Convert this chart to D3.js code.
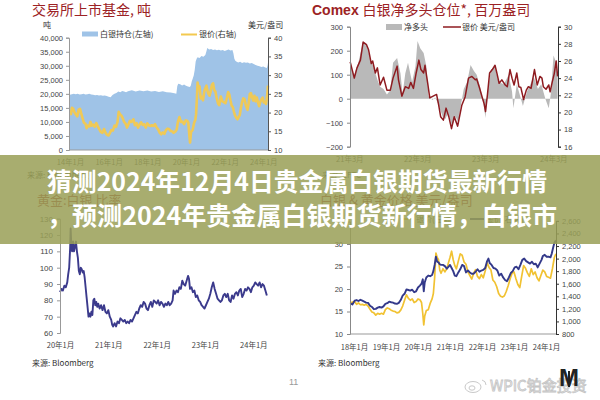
<!DOCTYPE html>
<html><head><meta charset="utf-8">
<script src="https://cdn.jsdelivr.net/npm/d3@7"></script>
<style>body{margin:0;background:#fff}svg{display:block}</style>
</head><body>
<svg id="c" width="600" height="400"></svg>
<script>
// ---------------- DATA ----------------
// Chart 1: ETF silver holdings (tonnes) and silver price (USD/oz)
const etfHoldings = [[2014.0,19700],[2014.1,19900],[2014.2,20000],[2014.3,19900],[2014.4,20000],[2014.5,19800],[2014.6,19900],[2014.7,20000],[2014.8,19800],[2014.9,19900],[2015.0,20000],[2015.1,19800],[2015.2,19700],[2015.3,19500],[2015.4,19600],[2015.5,19400],[2015.6,19500],[2015.7,19300],[2015.8,19400],[2015.9,19200],[2016.0,19000],[2016.1,18800],[2016.2,19600],[2016.3,20000],[2016.4,20300],[2016.5,20800],[2016.6,20600],[2016.7,21000],[2016.8,20800],[2016.9,20600],[2017.0,20900],[2017.2,21300],[2017.4,20800],[2017.6,21200],[2017.8,20900],[2018.0,21200],[2018.2,20800],[2018.4,21000],[2018.6,20700],[2018.8,20900],[2019.0,20600],[2019.2,20500],[2019.4,20200],[2019.5,20000],[2019.55,22800],[2019.6,23600],[2019.7,23400],[2019.8,23000],[2019.9,23300],[2020.0,22900],[2020.1,22600],[2020.2,22400],[2020.25,23000],[2020.3,24500],[2020.35,25500],[2020.4,26500],[2020.45,28500],[2020.5,31500],[2020.55,32500],[2020.6,33000],[2020.7,32800],[2020.8,33500],[2020.9,33200],[2021.0,33800],[2021.05,35000],[2021.1,36300],[2021.2,35800],[2021.3,36000],[2021.4,35600],[2021.5,35800],[2021.6,35500],[2021.7,35700],[2021.8,35400],[2021.9,35600],[2022.0,35300],[2022.1,35500],[2022.2,35800],[2022.3,35400],[2022.4,35600],[2022.45,34500],[2022.5,32500],[2022.55,31800],[2022.6,31500],[2022.7,31200],[2022.8,31400],[2022.9,31000],[2023.0,31300],[2023.1,31100],[2023.2,31200],[2023.3,30800],[2023.4,31000],[2023.5,30600],[2023.6,30300],[2023.7,30000],[2023.8,29800],[2023.9,29600],[2024.0,29700],[2024.1,29400],[2024.18,29200],[2024.22,30200],[2024.24,31200]];
const etfSilverPrice = [[2014.00,20.0],[2014.05,19.6],[2014.10,21.3],[2014.17,21.0],[2014.22,20.2],[2014.30,19.5],[2014.38,19.0],[2014.45,20.8],[2014.52,21.0],[2014.58,19.8],[2014.65,18.5],[2014.72,17.3],[2014.80,17.0],[2014.86,15.8],[2014.92,16.5],[2015.00,16.3],[2015.06,17.5],[2015.12,16.5],[2015.20,16.8],[2015.28,16.2],[2015.36,17.2],[2015.44,16.3],[2015.52,15.5],[2015.60,14.8],[2015.68,14.6],[2015.76,15.6],[2015.84,14.6],[2015.92,14.0],[2016.00,13.9],[2016.06,14.5],[2016.14,15.3],[2016.22,15.2],[2016.30,16.5],[2016.38,16.2],[2016.46,17.5],[2016.52,20.2],[2016.58,19.6],[2016.66,19.2],[2016.72,18.6],[2016.80,17.5],[2016.88,17.0],[2016.95,16.0],[2017.02,16.8],[2017.10,17.8],[2017.18,17.5],[2017.28,18.2],[2017.36,16.6],[2017.44,17.2],[2017.52,16.0],[2017.60,16.8],[2017.68,17.4],[2017.76,16.7],[2017.84,16.9],[2017.92,16.0],[2018.00,17.1],[2018.08,16.6],[2018.16,16.4],[2018.24,16.6],[2018.32,16.4],[2018.40,16.9],[2018.48,16.0],[2018.56,15.5],[2018.64,14.6],[2018.72,14.2],[2018.80,14.7],[2018.88,14.3],[2018.96,15.3],[2019.04,15.7],[2019.12,15.6],[2019.20,15.1],[2019.28,15.0],[2019.36,14.6],[2019.44,14.9],[2019.52,15.5],[2019.58,17.5],[2019.66,18.8],[2019.74,17.5],[2019.82,17.6],[2019.90,16.9],[2019.98,17.9],[2020.06,17.8],[2020.12,17.3],[2020.18,13.5],[2020.21,12.0],[2020.26,14.8],[2020.34,15.3],[2020.42,17.3],[2020.48,18.0],[2020.52,19.5],[2020.56,23.5],[2020.60,28.0],[2020.64,26.5],[2020.70,27.0],[2020.76,23.8],[2020.82,24.2],[2020.88,23.3],[2020.94,25.5],[2021.00,26.5],[2021.06,27.2],[2021.10,26.0],[2021.16,25.0],[2021.22,24.5],[2021.28,25.8],[2021.34,27.4],[2021.40,27.8],[2021.46,26.0],[2021.52,25.6],[2021.58,24.0],[2021.66,22.4],[2021.72,22.0],[2021.80,24.3],[2021.88,23.0],[2021.96,22.8],[2022.04,22.5],[2022.12,24.0],[2022.18,25.5],[2022.24,24.8],[2022.30,23.2],[2022.36,21.8],[2022.42,21.5],[2022.48,20.2],[2022.54,19.2],[2022.60,18.6],[2022.66,18.2],[2022.72,18.8],[2022.78,19.3],[2022.84,21.3],[2022.90,22.8],[2022.96,23.8],[2023.02,23.6],[2023.10,21.9],[2023.18,20.7],[2023.24,22.5],[2023.30,25.0],[2023.36,25.2],[2023.42,24.0],[2023.48,23.2],[2023.54,24.5],[2023.60,23.0],[2023.66,24.0],[2023.72,22.8],[2023.78,21.7],[2023.84,22.8],[2023.90,23.5],[2023.96,24.0],[2024.02,22.7],[2024.08,22.8],[2024.14,22.3],[2024.20,24.8],[2024.24,27.2]];
const etfLeftTicks = [0,5000,10000,15000,20000,25000,30000,35000,40000];
const etfRightTicks = [10,15,20,25,30,35,40];
const etfXTicks = [2014,2016,2018,2020,2022,2024];
const etfXLabels = ["14年1月","16年1月","18年1月","20年1月","22年1月","24年1月"];

// Chart 2: Comex net long (million oz) and silver price
const cotNetLong = [[2021.18,155],[2021.23,95],[2021.30,150],[2021.37,239],[2021.43,218],[2021.48,155],[2021.52,135],[2021.58,79],[2021.62,50],[2021.67,40],[2021.72,17],[2021.77,35],[2021.81,150],[2021.87,170],[2021.92,105],[2021.95,20],[2021.99,105],[2022.03,150],[2022.09,70],[2022.14,135],[2022.17,240],[2022.21,210],[2022.26,190],[2022.30,135],[2022.33,10],[2022.39,-5],[2022.43,5],[2022.48,-25],[2022.54,-75],[2022.58,-85],[2022.62,-60],[2022.68,-115],[2022.73,-75],[2022.77,-100],[2022.80,-40],[2022.85,40],[2022.90,70],[2022.95,140],[2023.00,115],[2023.04,100],[2023.09,50],[2023.14,-20],[2023.17,-80],[2023.20,30],[2023.25,120],[2023.31,135],[2023.36,70],[2023.44,60],[2023.51,100],[2023.56,30],[2023.58,-40],[2023.63,60],[2023.68,10],[2023.72,-30],[2023.78,30],[2023.88,90],[2023.94,40],[2023.99,60],[2024.05,0],[2024.10,-40],[2024.13,20],[2024.17,180],[2024.21,150],[2024.23,100]];
const cotSilverPrice = [[2021.18,25.9],[2021.24,24.0],[2021.28,25.2],[2021.33,26.1],[2021.37,28.2],[2021.42,27.9],[2021.45,27.3],[2021.49,25.7],[2021.51,26.0],[2021.55,24.6],[2021.58,25.2],[2021.62,23.2],[2021.67,24.1],[2021.72,22.6],[2021.77,22.6],[2021.81,24.0],[2021.84,24.7],[2021.87,25.4],[2021.89,23.8],[2021.94,21.9],[2021.99,23.0],[2022.04,22.8],[2022.07,23.5],[2022.11,22.8],[2022.15,24.6],[2022.19,26.1],[2022.22,25.0],[2022.26,24.6],[2022.28,25.5],[2022.32,23.4],[2022.35,21.7],[2022.40,21.9],[2022.45,22.1],[2022.48,20.9],[2022.51,19.5],[2022.55,19.1],[2022.59,20.5],[2022.63,19.5],[2022.67,18.1],[2022.71,19.5],[2022.76,18.4],[2022.79,19.6],[2022.82,20.8],[2022.87,21.8],[2022.92,24.0],[2022.97,24.2],[2023.02,23.8],[2023.04,23.9],[2023.08,22.9],[2023.12,21.8],[2023.15,21.0],[2023.17,20.1],[2023.20,22.2],[2023.23,24.6],[2023.27,25.0],[2023.31,25.5],[2023.34,24.5],[2023.37,23.4],[2023.41,23.8],[2023.46,23.2],[2023.49,23.0],[2023.53,25.0],[2023.56,24.0],[2023.59,23.2],[2023.63,24.6],[2023.66,23.0],[2023.69,22.9],[2023.73,21.5],[2023.77,22.6],[2023.80,23.0],[2023.84,22.8],[2023.89,25.0],[2023.93,23.2],[2023.97,24.2],[2024.00,24.0],[2024.02,23.0],[2024.06,22.7],[2024.10,23.2],[2024.12,22.4],[2024.15,23.5],[2024.18,24.5],[2024.21,26.0],[2024.23,24.2]];
const cotLeftTicks = [-200,-100,0,100,200,300];
const cotRightTicks = [16,18,20,22,24,26,28,30];
const cotXTicks = [2021.167,2022.167,2023.167,2024.167];
const cotXLabels = ["21年3月","22年3月","23年3月","24年3月"];

// Chart 3: gold/silver ratio
const goldSilverRatio = [[2020.00,85],[2020.03,87],[2020.06,86],[2020.09,89],[2020.12,88],[2020.15,91],[2020.17,96],[2020.19,100],[2020.21,112],[2020.22,124],[2020.235,113],[2020.25,110],[2020.27,116],[2020.29,110],[2020.31,113],[2020.33,116],[2020.35,110],[2020.37,106],[2020.39,98],[2020.41,96],[2020.43,100],[2020.45,99],[2020.47,97],[2020.49,98],[2020.51,94],[2020.53,88],[2020.55,82],[2020.57,76],[2020.59,70],[2020.61,72],[2020.63,70],[2020.65,73],[2020.67,71],[2020.69,80],[2020.71,81],[2020.73,77],[2020.75,79],[2020.77,76],[2020.79,78],[2020.82,75],[2020.85,77],[2020.88,74],[2020.91,77],[2020.94,73],[2020.97,72],[2021.00,74],[2021.03,70],[2021.06,68],[2021.08,65],[2021.10,64],[2021.13,66],[2021.16,64],[2021.19,67],[2021.22,66],[2021.25,69],[2021.28,68],[2021.31,67],[2021.34,68],[2021.37,66],[2021.40,67],[2021.43,66],[2021.46,68],[2021.49,67],[2021.52,69],[2021.55,71],[2021.58,73],[2021.61,72],[2021.64,75],[2021.67,77],[2021.70,76],[2021.73,79],[2021.76,78],[2021.79,75],[2021.82,74],[2021.85,77],[2021.88,79],[2021.91,76],[2021.94,80],[2021.97,79],[2022.00,78],[2022.03,80],[2022.06,77],[2022.09,79],[2022.12,78],[2022.15,76],[2022.18,78],[2022.21,77],[2022.24,79],[2022.27,77],[2022.30,78],[2022.33,80],[2022.35,86],[2022.38,84],[2022.41,86],[2022.44,85],[2022.47,88],[2022.50,87],[2022.53,92],[2022.56,90],[2022.59,89],[2022.62,92],[2022.65,95],[2022.67,93],[2022.69,87],[2022.72,88],[2022.75,85],[2022.78,86],[2022.81,82],[2022.84,83],[2022.87,80],[2022.90,79],[2022.93,77],[2022.96,76],[2022.99,75],[2023.02,77],[2023.05,79],[2023.08,81],[2023.11,84],[2023.14,88],[2023.17,91],[2023.20,87],[2023.23,84],[2023.26,81],[2023.29,80],[2023.32,79],[2023.35,80],[2023.38,83],[2023.41,84],[2023.44,82],[2023.47,84],[2023.50,80],[2023.53,79],[2023.56,83],[2023.59,81],[2023.62,84],[2023.65,85],[2023.68,83],[2023.71,86],[2023.74,87],[2023.77,82],[2023.80,84],[2023.83,87],[2023.86,86],[2023.89,88],[2023.92,87],[2023.95,85],[2023.98,88],[2024.01,89],[2024.04,91],[2024.07,90],[2024.10,89],[2024.13,91],[2024.16,88],[2024.19,90],[2024.22,89],[2024.25,86],[2024.28,83]];
const ratioTicks = [60,70,80,90,100,110,120,130];
const ratioXTicks = [2020,2021,2022,2023,2024];
const ratioXLabels = ["20年1月","21年1月","22年1月","23年1月","24年1月"];

// Chart 4: silver (left) and gold (right) prices
const silverPrice = [[2017.88,16.8],[2017.95,17.1],[2018.02,17.2],[2018.08,16.6],[2018.14,16.9],[2018.2,16.5],[2018.26,16.6],[2018.32,16.4],[2018.38,16.6],[2018.44,16.2],[2018.5,15.5],[2018.56,14.9],[2018.62,14.7],[2018.68,14.2],[2018.74,14.6],[2018.8,14.4],[2018.86,14.6],[2018.92,14.4],[2018.98,15.4],[2019.04,15.8],[2019.1,15.6],[2019.16,15.3],[2019.22,15.1],[2019.28,15.0],[2019.34,14.7],[2019.4,14.8],[2019.46,15.3],[2019.52,16.2],[2019.58,17.5],[2019.64,18.7],[2019.7,17.9],[2019.76,17.5],[2019.82,17.8],[2019.88,17.0],[2019.94,17.2],[2020.0,17.8],[2020.06,17.6],[2020.11,17.0],[2020.15,14.5],[2020.18,12.0],[2020.21,14.0],[2020.26,15.2],[2020.32,15.4],[2020.38,16.8],[2020.44,17.8],[2020.48,19.0],[2020.52,22.5],[2020.56,28.0],[2020.6,27.0],[2020.64,26.5],[2020.68,24.2],[2020.72,23.5],[2020.78,24.5],[2020.84,23.8],[2020.9,24.5],[2020.95,25.8],[2021.0,27.0],[2021.05,28.4],[2021.1,26.5],[2021.15,25.2],[2021.2,24.5],[2021.26,26.2],[2021.32,27.8],[2021.38,27.5],[2021.44,26.0],[2021.5,25.5],[2021.56,23.8],[2021.62,23.0],[2021.68,22.2],[2021.74,23.5],[2021.8,24.3],[2021.86,22.8],[2021.92,22.3],[2021.98,23.2],[2022.04,22.5],[2022.1,24.0],[2022.16,25.8],[2022.22,24.8],[2022.28,24.2],[2022.34,22.0],[2022.4,21.5],[2022.46,20.5],[2022.52,19.0],[2022.58,18.4],[2022.64,18.2],[2022.7,18.5],[2022.76,19.5],[2022.82,20.8],[2022.88,22.3],[2022.94,23.5],[2023.0,23.8],[2023.06,22.3],[2023.12,21.0],[2023.18,20.3],[2023.24,22.8],[2023.3,25.2],[2023.36,24.6],[2023.42,23.6],[2023.48,22.8],[2023.54,24.5],[2023.6,23.2],[2023.66,23.8],[2023.72,22.5],[2023.78,21.8],[2023.84,23.0],[2023.9,24.2],[2023.96,23.8],[2024.02,22.8],[2024.08,22.6],[2024.14,22.4],[2024.2,24.5],[2024.26,27.0],[2024.31,27.8]];
const goldPrice = [[2017.88,1290],[2017.95,1270],[2018.02,1330],[2018.08,1340],[2018.14,1325],[2018.2,1345],[2018.26,1330],[2018.32,1315],[2018.38,1300],[2018.44,1295],[2018.5,1250],[2018.56,1230],[2018.62,1195],[2018.68,1200],[2018.74,1220],[2018.8,1230],[2018.86,1220],[2018.92,1240],[2018.98,1280],[2019.04,1290],[2019.1,1315],[2019.16,1305],[2019.22,1300],[2019.28,1285],[2019.34,1280],[2019.4,1295],[2019.46,1340],[2019.52,1410],[2019.58,1440],[2019.64,1510],[2019.7,1500],[2019.76,1490],[2019.82,1505],[2019.88,1465],[2019.94,1480],[2020.0,1540],[2020.06,1570],[2020.11,1600],[2020.15,1670],[2020.18,1480],[2020.21,1620],[2020.26,1700],[2020.32,1730],[2020.38,1720],[2020.44,1740],[2020.48,1800],[2020.52,1900],[2020.56,2030],[2020.6,1950],[2020.64,1940],[2020.68,1910],[2020.72,1900],[2020.78,1900],[2020.84,1880],[2020.9,1840],[2020.95,1870],[2021.0,1900],[2021.05,1850],[2021.1,1800],[2021.15,1730],[2021.2,1720],[2021.26,1780],[2021.32,1830],[2021.38,1900],[2021.44,1880],[2021.5,1780],[2021.56,1810],[2021.62,1780],[2021.68,1760],[2021.74,1760],[2021.8,1790],[2021.86,1830],[2021.92,1790],[2021.98,1810],[2022.04,1820],[2022.1,1850],[2022.16,1960],[2022.2,2000],[2022.24,1930],[2022.3,1900],[2022.36,1850],[2022.42,1840],[2022.48,1810],[2022.54,1730],[2022.6,1760],[2022.66,1700],[2022.72,1660],[2022.78,1640],[2022.84,1700],[2022.9,1770],[2022.96,1800],[2023.02,1860],[2023.08,1870],[2023.14,1830],[2023.2,1900],[2023.26,1980],[2023.32,2000],[2023.38,1960],[2023.44,1940],[2023.5,1920],[2023.56,1950],[2023.62,1910],[2023.68,1920],[2023.74,1860],[2023.8,1920],[2023.86,1980],[2023.9,2040],[2023.96,2060],[2024.02,2030],[2024.08,2030],[2024.14,2020],[2024.18,2080],[2024.22,2170],[2024.26,2250],[2024.31,2290]];
const pxLeftTicks = [10,15,20,25,30];
const pxRightTicks = [800,1000,1200,1400,1600,1800,2000,2200,2400,2600];
const pxXTicks = [2018,2019,2020,2021,2022,2023,2024];
const pxXLabels = ["18年1月","19年1月","20年1月","21年1月","22年1月","23年1月","24年1月"];

const bannerLines = ["猜测2024年12月4日贵金属白银期货最新行情", "，预测2024年贵金属白银期货新行情，白银市"];

// ---------------- DRAW ----------------
const LAT = "'Liberation Sans', Arial, sans-serif";
const CJK = "'Noto Sans CJK SC', 'Noto Sans', sans-serif";
const TITLE = "#9c2224";
const svg = d3.select('#c');
svg.append('rect').attr('width',600).attr('height',400).attr('fill','#fff');

function styleAxis(g, lineColor, fs, family) {
  g.select('.domain').attr('stroke', lineColor);
  g.selectAll('.tick line').attr('stroke', lineColor);
  g.selectAll('.tick text').attr('fill', '#444').attr('font-size', fs).attr('font-family', family || LAT);
}
function xLabels(scale, ticks, labels, y) {
  const g = svg.append('g').attr('transform', `translate(0,${y})`)
    .call(d3.axisBottom(scale).tickValues(ticks).tickFormat((d,i)=>labels[i]).tickSize(0).tickPadding(0));
  g.select('.domain').remove();
  g.selectAll('.tick text').attr('fill','#444').attr('font-size',7.5).attr('font-family',CJK).attr('dy',0);
}
function txt(x, y, s, o) {
  o = o || {};
  return svg.append('text').attr('x',x).attr('y',y).text(s)
    .attr('font-size', o.fs || 8).attr('font-family', o.ff || CJK)
    .attr('fill', o.fill || '#333').attr('font-weight', o.fw || 'normal')
    .attr('text-anchor', o.anchor || 'start');
}

// ===== Chart 1 =====
{
  const L=69, R=268, T=37.7, B=150;
  const x = d3.scaleLinear().domain([2013.95, 2024.24]).range([L, R]);
  const yL = d3.scaleLinear().domain([0, 40000]).range([B, T]);
  const yR = d3.scaleLinear().domain([10, 40]).range([B, T]);
  svg.append('path').datum(etfHoldings)
    .attr('d', d3.area().x(d=>x(d[0])).y0(yL(0)).y1(d=>yL(d[1])))
    .attr('fill', '#9fc3e7');
  svg.append('path').datum(etfSilverPrice)
    .attr('d', d3.line().x(d=>x(d[0])).y(d=>yR(d[1])))
    .attr('fill','none').attr('stroke','#f3c94f').attr('stroke-width',2.6).attr('stroke-linejoin','round').attr('opacity',0.95);
  const gl = svg.append('g').attr('transform',`translate(${L},0)`)
    .call(d3.axisLeft(yL).tickValues(etfLeftTicks).tickFormat(d3.format(',')).tickSize(3).tickPadding(3));
  styleAxis(gl, '#999', 7.5);
  const gr = svg.append('g').attr('transform',`translate(${R},0)`)
    .call(d3.axisRight(yR).tickValues(etfRightTicks).tickSize(3).tickPadding(3));
  styleAxis(gr, '#555', 7.5);
  svg.append('line').attr('x1',L).attr('x2',R).attr('y1',B).attr('y2',B).attr('stroke','#999');
  xLabels(x, etfXTicks, etfXLabels, 165);
  txt(32, 14.5, '交易所上市基金, 吨', {fs:14, fill:TITLE});
  txt(43, 28, '吨', {fs:8});
  txt(248, 28, '美元/盎司', {fs:8});
  svg.append('rect').attr('x',82).attr('y',31.5).attr('width',16).attr('height',5).attr('fill','#9fc3e7');
  txt(100, 37, '白银持仓(左轴)', {fs:8});
  svg.append('line').attr('x1',181).attr('x2',197).attr('y1',34.5).attr('y2',34.5).attr('stroke','#f3c94f').attr('stroke-width',2);
  txt(199, 37, '银价(右轴)', {fs:8});
  txt(27, 178, '来源: Bloomberg', {fs:8});
}

// ===== Chart 2 =====
{
  const L=350, R=558, T=26.7, B=146.7;
  const x = d3.scaleLinear().domain([2021.177, 2024.236]).range([L, R]);
  const yL = d3.scaleLinear().domain([-200, 300]).range([B, T]);
  const yR = d3.scaleLinear().domain([16, 30]).range([B, T]);
  svg.append('path').datum(cotNetLong)
    .attr('d', d3.area().x(d=>x(d[0])).y0(yL(0)).y1(d=>yL(d[1])))
    .attr('fill', '#b9b9b9');
  svg.append('path').datum(cotSilverPrice)
    .attr('d', d3.line().x(d=>x(d[0])).y(d=>yR(d[1])))
    .attr('fill','none').attr('stroke','#8e1b20').attr('stroke-width',1.5).attr('stroke-linejoin','round');
  const gl = svg.append('g').attr('transform',`translate(${L},0)`)
    .call(d3.axisLeft(yL).tickValues(cotLeftTicks).tickSize(3).tickPadding(4));
  styleAxis(gl, '#888', 7.5);
  const gr = svg.append('g').attr('transform',`translate(${R},0)`)
    .call(d3.axisRight(yR).tickValues(cotRightTicks).tickSize(3).tickPadding(3));
  styleAxis(gr, '#333', 7.5);
  xLabels(x, cotXTicks, cotXLabels, 162);
  const t = txt(312, 14.5, '', {fs:14, fill:TITLE});
  t.append('tspan').attr('font-family',LAT).attr('font-weight','bold').text('Comex ');
  t.append('tspan').text('白银净多头仓位*, 百万盎司');
  svg.append('rect').attr('x',386).attr('y',24).attr('width',16).attr('height',6).attr('fill','#b9b9b9');
  txt(404, 30, '净多头', {fs:8});
  svg.append('line').attr('x1',443).attr('x2',461).attr('y1',27).attr('y2',27).attr('stroke','#8e1b20').attr('stroke-width',1.5);
  txt(462, 30, '银价 美元/盎司', {fs:8});
  txt(322, 178, '来源: CFTC', {fs:8});
}

// ===== Chart 3 =====
{
  const L=60, T=218.7, B=333;
  const x = d3.scaleLinear().domain([2020, 2024.3]).range([L, L + 4.3*48.33]);
  const y = d3.scaleLinear().domain([60, 130]).range([B, T]);
  svg.append('path').datum(goldSilverRatio)
    .attr('d', d3.line().x(d=>x(d[0])).y(d=>y(d[1])))
    .attr('fill','none').attr('stroke','#3b3a8c').attr('stroke-width',1.9).attr('stroke-linejoin','round');
  const gl = svg.append('g').attr('transform',`translate(${L},0)`)
    .call(d3.axisLeft(y).tickValues(ratioTicks).tickSize(3).tickPadding(4));
  styleAxis(gl, '#999', 8);
  xLabels(x, ratioXTicks, ratioXLabels, 348);
  txt(37, 205, '黄金:白银 比率', {fs:13, fill:TITLE});
  txt(32, 366, '来源: Bloomberg', {fs:8});
}

// ===== Chart 4 =====
{
  const L=350, R=556, B=334;
  const x = d3.scaleLinear().domain([2017.875, 2024.3125]).range([L, R]);
  const yL = d3.scaleLinear().domain([10, 35]).range([B, 221.5]);
  const yR = d3.scaleLinear().domain([800, 2600]).range([B, 220.9]);
  svg.append('path').datum(silverPrice)
    .attr('d', d3.line().x(d=>x(d[0])).y(d=>yL(d[1])))
    .attr('fill','none').attr('stroke','#f1c232').attr('stroke-width',1.7).attr('stroke-linejoin','round');
  svg.append('path').datum(goldPrice)
    .attr('d', d3.line().x(d=>x(d[0])).y(d=>yR(d[1])))
    .attr('fill','none').attr('stroke','#33398a').attr('stroke-width',1.9).attr('stroke-linejoin','round');
  const gl = svg.append('g').attr('transform',`translate(${L},0)`)
    .call(d3.axisLeft(yL).tickValues(pxLeftTicks).tickSize(3).tickPadding(4));
  styleAxis(gl, '#888', 7.5);
  const gr = svg.append('g').attr('transform',`translate(${R},0)`)
    .call(d3.axisRight(yR).tickValues(pxRightTicks).tickFormat(d3.format(',')).tickSize(3).tickPadding(3));
  styleAxis(gr, '#333', 7.5);
  svg.append('line').attr('x1',L).attr('x2',R).attr('y1',B).attr('y2',B).attr('stroke','#999');
  xLabels(x, pxXTicks, pxXLabels, 349.5);
  txt(320, 205, '白银 & 黄金价格 美元/盎司', {fs:13, fill:TITLE});
  svg.append('line').attr('x1',400).attr('x2',414).attr('y1',219).attr('y2',219).attr('stroke','#f1c232').attr('stroke-width',2);
  txt(416, 222, '银价(左轴)', {fs:8});
  svg.append('line').attr('x1',470).attr('x2',484).attr('y1',219).attr('y2',219).attr('stroke','#33398a').attr('stroke-width',2);
  txt(486, 222, '金价(右轴)', {fs:8});
  txt(318, 366, '来源: Bloomberg', {fs:8});
}

// page number
txt(289, 385, '11', {fs:9, ff:LAT, fill:'#999'});

// watermark
{
  const g = svg.append('g').attr('fill','none').attr('stroke','#c9c9c9').attr('stroke-width',1);
  g.append('ellipse').attr('cx',473).attr('cy',387).attr('rx',8).attr('ry',5.5);
  g.append('ellipse').attr('cx',472).attr('cy',388).attr('rx',3).attr('ry',2.2);
  g.append('path').attr('d','M482,380 q4,1 4,5');
  svg.append('text').attr('x',490).attr('y',391).text('WPIC铂金投资')
    .attr('font-size',15).attr('font-family',CJK).attr('fill','#f6f6f6')
    .attr('stroke','#c4c4c4').attr('stroke-width',0.8);
  svg.append('text').attr('x',559).attr('y',386).text('M')
    .attr('font-size',24).attr('font-family',LAT).attr('font-weight','bold').attr('fill','#222')
    .attr('textLength',20).attr('lengthAdjust','spacingAndGlyphs');
  svg.append('rect').attr('x',568).attr('y',371).attr('width',2).attr('height',16).attr('fill','#222');
}

// ===== Banner overlay =====
svg.append('rect').attr('x',0).attr('y',155).attr('width',600).attr('height',89)
  .attr('fill','#9aa057').attr('opacity',0.86);
svg.append('text').attr('x',297).attr('y',191).attr('text-anchor','middle')
  .attr('font-size',25).attr('font-weight','bold').attr('font-family',CJK).attr('fill','#fff')
  .attr('textLength',500).attr('lengthAdjust','spacingAndGlyphs').text(bannerLines[0]);
svg.append('text').attr('x',302).attr('y',225).attr('text-anchor','middle')
  .attr('font-size',25).attr('font-weight','bold').attr('font-family',CJK).attr('fill','#fff')
  .attr('textLength',510).attr('lengthAdjust','spacingAndGlyphs').text(bannerLines[1]);
</script>
</body></html>
